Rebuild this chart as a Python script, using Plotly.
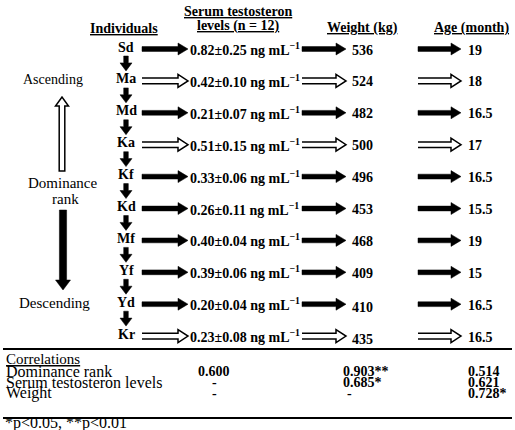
import plotly.graph_objects as go

# ---------------- data ----------------
individuals = ["Sd", "Ma", "Md", "Ka", "Kf", "Kd", "Mf", "Yf", "Yd", "Kr"]
testo_mean = ["0.82", "0.42", "0.21", "0.51", "0.33", "0.26", "0.40", "0.39", "0.20", "0.23"]
testo_sd = ["0.25", "0.10", "0.07", "0.15", "0.06", "0.11", "0.04", "0.06", "0.04", "0.08"]
weight_kg = ["536", "524", "482", "500", "496", "453", "468", "409", "410", "435"]
age_month = ["19", "18", "16.5", "17", "16.5", "15.5", "19", "15", "16.5", "16.5"]
hollow_arrow = [False, True, False, True, False, False, False, False, False, True]

corr_rows = ["Dominance rank", "Serum testosteron levels", "Weight"]
corr_testo = ["0.600", "-", "-"]
corr_weight = ["0.903**", "0.685*", "-"]
corr_age = ["0.514", "0.621", "0.728*"]
footnote = "*p<0.05, **p<0.01"

# ---------------- layout helpers ----------------
FONT = "Liberation Serif"
W, H = 515, 430
row_y0, row_dy = 48, 31.9
ind_x = 126
shapes = []
annotations = []


def text(x, y, s, size=14, anchor="left", bold=False, yanchor="middle"):
    if bold:
        s = "<b>" + s + "</b>"
    annotations.append(dict(x=x, y=y, xref="x", yref="y", text=s, showarrow=False,
                            xanchor=anchor, yanchor=yanchor, borderpad=0,
                            font=dict(family=FONT, size=size, color="black")))


def h_arrow(x0, x1, y, hollow):
    if hollow:
        sh, hh, hl = 2.8, 6.5, 10
        xs = x1 - hl
        p = (f"M{x0},{y-sh} L{xs},{y-sh} L{xs},{y-hh} L{x1},{y} L{xs},{y+hh} "
             f"L{xs},{y+sh} L{x0},{y+sh}")
        shapes.append(dict(type="path", path=p, xref="x", yref="y",
                           line=dict(color="black", width=1.5), fillcolor="rgba(0,0,0,0)"))
    else:
        sh, hh, hl = 2.4, 6.0, 10
        xs = x1 - hl
        p = (f"M{x0},{y-sh} L{xs},{y-sh} L{xs},{y-hh} L{x1},{y} L{xs},{y+hh} "
             f"L{xs},{y+sh} L{x0},{y+sh} Z")
        shapes.append(dict(type="path", path=p, xref="x", yref="y",
                           line=dict(color="black", width=0.5), fillcolor="black"))


def v_arrow(x, y0, y1, hollow, sh=2.5, hh=6.0, hl=7):
    d = 1 if y1 > y0 else -1
    ys = y1 - d * hl
    p = (f"M{x-sh},{y0} L{x-sh},{ys} L{x-hh},{ys} L{x},{y1} L{x+hh},{ys} "
         f"L{x+sh},{ys} L{x+sh},{y0} Z")
    if hollow:
        shapes.append(dict(type="path", path=p, xref="x", yref="y",
                           line=dict(color="black", width=1.5), fillcolor="white"))
    else:
        shapes.append(dict(type="path", path=p, xref="x", yref="y",
                           line=dict(color="black", width=0.5), fillcolor="black"))


# headers
text(124, 28, "<u>Individuals</u>", size=14, anchor="center", bold=True)
text(238, 11, "<u>Serum testosteron</u>", size=14, anchor="center", bold=True)
text(238, 26, "<u>levels (n = 12)</u>", size=14, anchor="center", bold=True)
text(362, 28, "<u>Weight (kg)</u>", size=14, anchor="center", bold=True)
text(471, 28, "<u>Age (month)</u>", size=14, anchor="center", bold=True)

# rows
for i, name in enumerate(individuals):
    y = row_y0 + i * row_dy
    hol = hollow_arrow[i]
    text(ind_x, y - 1, name, size=14, anchor="center", bold=True)
    h_arrow(142, 188, y + 1, hol)
    text(189, y + 1, f"{testo_mean[i]}±{testo_sd[i]} ng mL<sup>−1</sup>", size=14,
         bold=True)
    h_arrow(302, 346, y + 1, hol)
    text(351, y + 2 + (2 if i >= 8 else 0), weight_kg[i], size=14, bold=True)
    h_arrow(418, 461, y + 1, hol)
    text(467, y + 2, age_month[i], size=14, bold=True)
    if i < len(individuals) - 1:
        v_arrow(ind_x, y + 8, y + row_dy - 9, False, sh=2.3, hh=6.0, hl=8)

# left side: dominance rank
text(53, row_y0 + 1 * row_dy, "Ascending", size=14, anchor="center")
v_arrow(62, 171, 97, True, sh=2.8, hh=6.5, hl=9)
text(62, 183, "Dominance", size=15, anchor="center")
text(65, 199, "rank", size=15, anchor="center")
v_arrow(63, 210, 290, False, sh=3.6, hh=7.5, hl=10)
text(54, row_y0 + 8 * row_dy, "Descending", size=15, anchor="center")

# table rules
shapes.append(dict(type="line", x0=3, x1=512, y0=349, y1=349, xref="x", yref="y",
                   line=dict(color="black", width=2.2)))
shapes.append(dict(type="line", x0=3, x1=512, y0=418, y1=418, xref="x", yref="y",
                   line=dict(color="black", width=2.2)))

# correlations
text(5, 359, "<u>Correlations</u>", size=15)
for j, lab in enumerate(corr_rows):
    yy = 371 + j * 11
    text(5, yy, lab, size=16)
    text(214, yy, corr_testo[j], size=14, anchor="center", bold=True)
    if corr_weight[j] == "-":
        text(349, yy, corr_weight[j], size=14, anchor="center", bold=True)
    else:
        text(342, yy, corr_weight[j], size=14, bold=True)
    text(467, yy, corr_age[j], size=14, bold=True)
text(4, 423, footnote, size=16)

fig = go.Figure()
fig.update_layout(
    width=W, height=H, margin=dict(l=0, r=0, t=0, b=0),
    paper_bgcolor="white", plot_bgcolor="white",
    xaxis=dict(range=[0, W], visible=False, fixedrange=True),
    yaxis=dict(range=[H, 0], visible=False, fixedrange=True),
    shapes=shapes, annotations=annotations, showlegend=False,
)
fig.write_html("out.html", config={"displayModeBar": False},
               post_script="document.body.style.margin='0px';")
